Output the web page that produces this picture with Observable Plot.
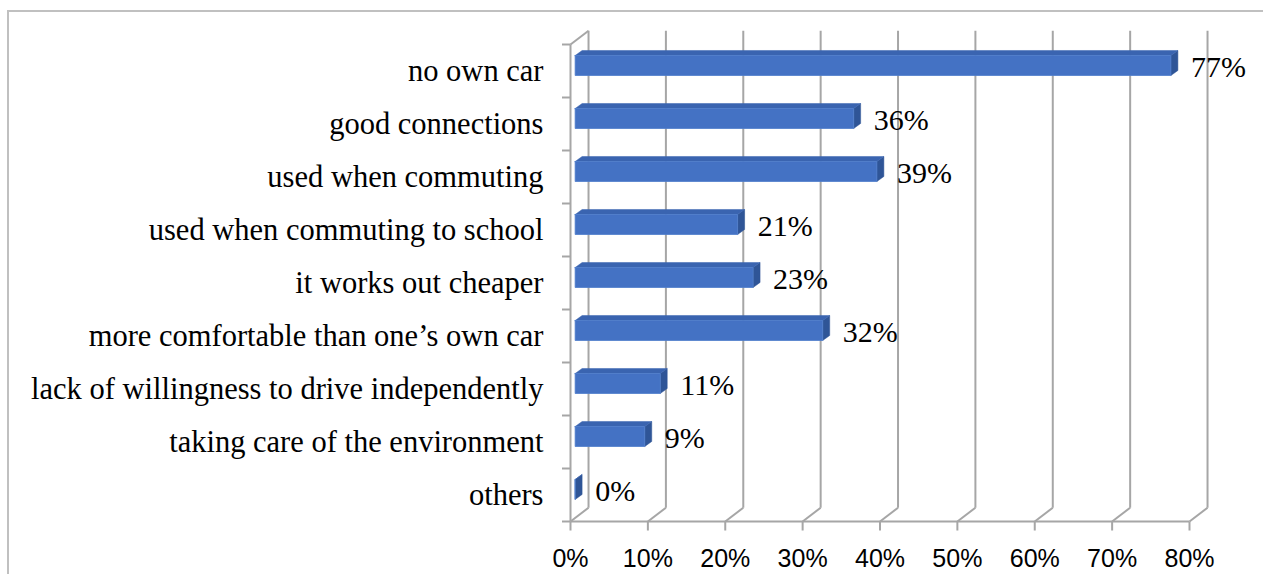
<!DOCTYPE html>
<html>
<head>
<meta charset="utf-8">
<script src="https://cdn.jsdelivr.net/npm/d3@7"></script>
<script src="https://cdn.jsdelivr.net/npm/@observablehq/plot@0.6"></script>
<style>
  html, body { margin: 0; padding: 0; background: #fff; }
  #wrap { position: relative; width: 1263px; height: 574px; overflow: hidden; }
  #wrap svg { display: block; }
  #border { position: absolute; left: 7px; top: 10px; width: 1300px; height: 700px;
            border-top: 2px solid #c0c0c0; border-left: 2px solid #c0c0c0; pointer-events: none; }
</style>
</head>
<body>
<div id="wrap"><div id="border"></div></div>
<script>
// ---- data ----
const categories = [
  "no own car",
  "good connections",
  "used when commuting",
  "used when commuting to school",
  "it works out cheaper",
  "more comfortable than one’s own car",
  "lack of willingness to drive independently",
  "taking care of the environment",
  "others"
];
const values = [77, 36, 39, 21, 23, 32, 11, 9, 0];
const xTicks = [0, 10, 20, 30, 40, 50, 60, 70, 80];
const xTickLabels = ["0%", "10%", "20%", "30%", "40%", "50%", "60%", "70%", "80%"];

// ---- 3D geometry (in scale units) ----
const N = categories.length;
const WX = 2.33, WY = 0.26;           // wall depth
const BX0 = 0.6;                      // bar front offset
const BDX = 0.9, BDY = 0.095;         // bar depth
const BT = 0.208, BB = 0.585;         // bar face top/bottom within band

const rows = categories.map((c, i) => ({c, i, v: values[i]}));

const faceFront = [], faceTop = [], faceSide = [];
rows.forEach(({i, v}) => {
  const x0 = BX0, x1 = BX0 + v, t = i + BT, b = i + BB;
  [[x0, t], [x1, t], [x1, b], [x0, b], [x0, t]].forEach(([x, y]) => faceFront.push({id: i, x, y}));
  [[x0, t], [x1, t], [x1 + BDX, t - BDY], [x0 + BDX, t - BDY], [x0, t]].forEach(([x, y]) => faceTop.push({id: i, x, y}));
  [[x1, t], [x1 + BDX, t - BDY], [x1 + BDX, b - BDY], [x1, b], [x1, t]].forEach(([x, y]) => faceSide.push({id: i, x, y}));
});

const grid = "#a6a6a6";
const gridW = 2;
const catBounds = d3.range(N + 1);

const chart = Plot.plot({
  width: 1263,
  height: 574,
  marginLeft: 570,
  marginRight: 74,
  marginTop: 44,
  marginBottom: 53,
  style: {background: "transparent"},
  x: {domain: [0, 80], axis: null},
  y: {domain: [N, 0], axis: null},
  marks: [
    // back wall gridlines
    Plot.link(xTicks, {x1: d => d + WX, x2: d => d + WX, y1: N - WY, y2: -WY, stroke: grid, strokeWidth: gridW}),
    // floor diagonals
    Plot.link(xTicks, {x1: d => d, y1: N, x2: d => d + WX, y2: N - WY, stroke: grid, strokeWidth: gridW}),
    // floor front edge
    Plot.link([0], {x1: 0, x2: 80, y1: N, y2: N, stroke: grid, strokeWidth: gridW}),
    // x ticks
    Plot.link(xTicks, {x1: d => d, x2: d => d, y1: N, y2: N + 0.17, stroke: grid, strokeWidth: gridW}),
    // left wall front edge and top diagonal
    Plot.link([0], {x1: 0, x2: 0, y1: 0, y2: N, stroke: grid, strokeWidth: gridW}),
    Plot.link([0], {x1: 0, x2: WX, y1: 0, y2: -WY, stroke: grid, strokeWidth: gridW}),
    // category ticks on left wall
    Plot.link(catBounds, {x1: 0, x2: -1.1, y1: d => d, y2: d => d, stroke: grid, strokeWidth: gridW}),
    // bars (3D)
    Plot.line(faceSide, {x: "x", y: "y", z: "id", fill: "#2F5597", stroke: "#2F5597", strokeWidth: 0.5, curve: "linear"}),
    Plot.line(faceTop, {x: "x", y: "y", z: "id", fill: "#3A64B0", stroke: "#3A64B0", strokeWidth: 0.5, curve: "linear"}),
    Plot.line(faceFront, {x: "x", y: "y", z: "id", fill: "#4472C4", stroke: "#4F7ECB", strokeWidth: 0.8, curve: "linear"}),
    // category labels
    Plot.text(rows, {x: 0, y: d => d.i + 0.5, text: "c", textAnchor: "end", dx: -27, dy: 0,
      fontFamily: "Liberation Serif, Times New Roman, serif", fontSize: 30.5, fill: "#000", lineAnchor: "middle"}),
    // value labels
    Plot.text(rows, {x: d => BX0 + d.v, y: d => d.i + 0.44, text: d => d.v + "%", textAnchor: "start", dx: 20,
      fontFamily: "Liberation Serif, Times New Roman, serif", fontSize: 30, fill: "#000", lineAnchor: "middle"}),
    // x tick labels
    Plot.text(xTicks, {x: d => d, y: N, text: (d, i) => xTickLabels[i], dy: 37, textAnchor: "middle",
      fontFamily: "Liberation Sans, Arial, sans-serif", fontSize: 25, fill: "#000", lineAnchor: "middle"})
  ]
});

document.getElementById("wrap").insertBefore(chart, document.getElementById("border"));
</script>
</body>
</html>
